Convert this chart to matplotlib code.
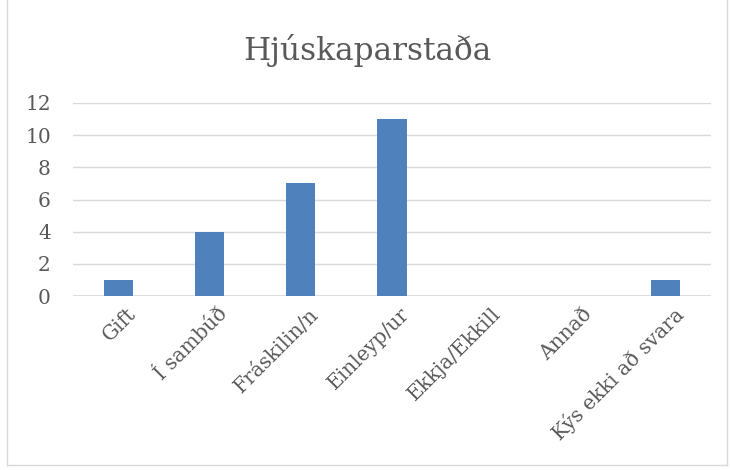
import matplotlib
matplotlib.use('Agg')
import matplotlib.pyplot as plt
from matplotlib.lines import Line2D
from matplotlib.transforms import ScaledTranslation

categories = ['Gift', 'Í sambúð', 'Fráskilin/n', 'Einleyp/ur', 'Ekkja/Ekkill', 'Annað', 'Kýs ekki að svara']
values = [1, 4, 7, 11, 0, 0, 1]
yticks = [0, 2, 4, 6, 8, 10, 12]

text_color = '#595959'
grid_color = '#D9D9D9'
bar_color = '#4F81BD'

plt.rcParams['font.family'] = ['DejaVu Serif']

fig = plt.figure(figsize=(7.3, 4.7), dpi=100)
ax = fig.add_axes([0.1, 0.370, 0.874, 0.411])

x = range(len(categories))
ax.bar(x, values, width=0.32, color=bar_color, zorder=3)

ax.set_xlim(-0.5, len(categories) - 0.5)
ax.set_ylim(0, 12)
ax.set_yticks(yticks)
ax.set_xticks(list(x))
ax.set_xticklabels(categories, rotation=45, ha='right', rotation_mode='anchor')
ax.tick_params(axis='both', length=0, colors=text_color, labelsize=14.5)
ax.tick_params(axis='y', pad=16)
ax.tick_params(axis='x', pad=6)

# nudge the rotated labels a little to the right, like the original
shift = ScaledTranslation(8 / 100, 0, fig.dpi_scale_trans)
for lbl in ax.get_xticklabels():
    lbl.set_transform(lbl.get_transform() + shift)

ax.grid(axis='y', color=grid_color, linewidth=1, zorder=0)
for s in ax.spines.values():
    s.set_visible(False)
ax.axhline(0, color=grid_color, linewidth=1.2, zorder=2)

fig.text(0.503, 0.893, 'Hjúskaparstaða', ha='center', va='center', fontsize=22.5, color=text_color)

# outer chart frame
fl = 7 / 730
fr = 727 / 730
fb = 5 / 470
for xs, ys in [([fl, fl], [fb, 1]), ([fr, fr], [fb, 1]), ([fl, fr], [fb, fb])]:
    fig.add_artist(Line2D(xs, ys, transform=fig.transFigure, color=grid_color, linewidth=1))

fig.savefig('out.png', dpi=100)
